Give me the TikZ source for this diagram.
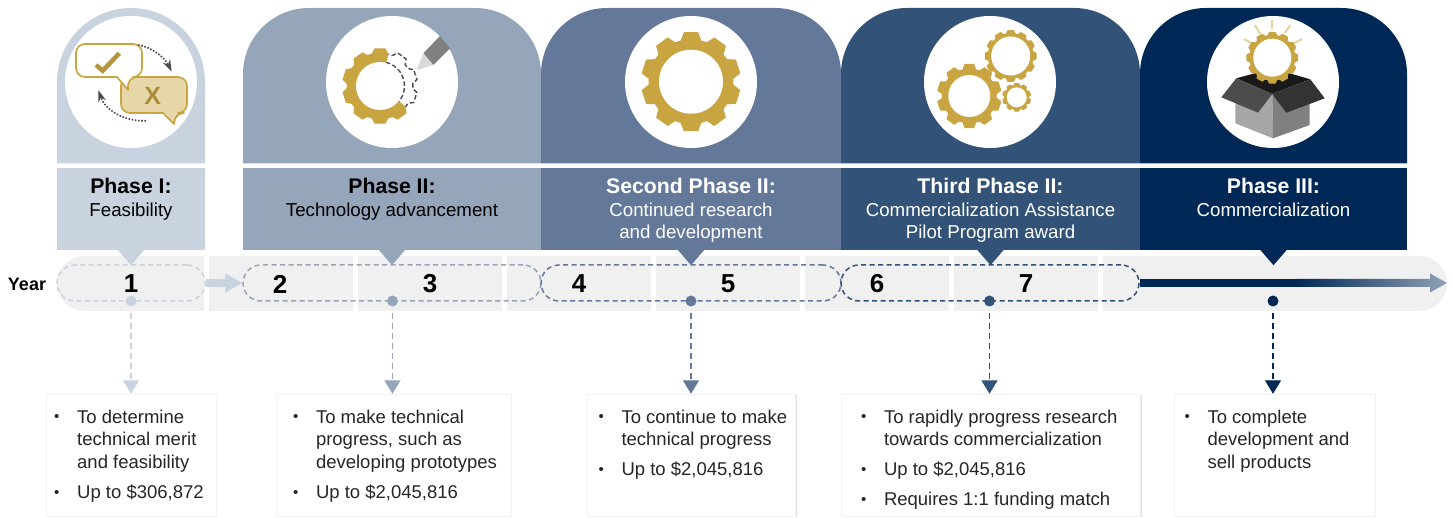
\documentclass[tikz,border=0pt]{standalone}
\usepackage{fontspec}
\setmainfont{Liberation Sans}
\usetikzlibrary{arrows.meta,shadows}

\definecolor{phA}{HTML}{C9D3DF}
\definecolor{phB}{HTML}{96A6BA}
\definecolor{phC}{HTML}{64799A}
\definecolor{phD}{HTML}{325277}
\definecolor{phE}{HTML}{002856}
\definecolor{track}{HTML}{F0F0F0}
\definecolor{gold}{HTML}{C9A542}
\definecolor{beige}{HTML}{E6D6A8}
\definecolor{bodytext}{HTML}{262626}

\tikzset{
  iconback/.style={circle, fill=white, minimum size=132pt, inner sep=0pt},
  panel/.style={rectangle, minimum height=82pt, inner sep=0pt},
  phasetext/.style={anchor=north, inner sep=0pt, align=center, font=\fontsize{18.7}{22.5}\selectfont},
  pill/.style={rectangle, rounded corners=18pt, minimum height=36pt, inner sep=0pt, line width=1.5pt, dash pattern=on 5pt off 3.5pt},
  yearnum/.style={inner sep=0pt, font=\fontsize{26}{26}\selectfont\bfseries},
  dot/.style={circle, minimum size=11pt, inner sep=0pt},
  goalbox/.style={rectangle, inner sep=0pt, fill=white, draw=black!5, text=bodytext, drop shadow={shadow xshift=1.2pt, shadow yshift=-1.2pt, fill=black!18, opacity=0.7}, font=\fontsize{18.5}{22.7}\selectfont},
  goalline/.style={line width=1.4pt, dash pattern=on 6pt off 4pt, shorten <=6pt, -{Triangle[length=13.5pt,width=16pt]}},
  gearfill/.style={fill=gold, draw=gold, line width=1pt, line join=round}
}

% outline of a gear around the origin: root radius, tip radius, teeth
\newcommand{\gearteeth}[3]{%
  ({90-0.38*360/#3}:#1) \foreach \t in {1,...,#3} {
    -- ({90+(\t-1)*360/#3-0.38*360/#3}:#1)
    -- ({90+(\t-1)*360/#3-0.22*360/#3}:#2)
    -- ({90+(\t-1)*360/#3+0.22*360/#3}:#2)
    -- ({90+(\t-1)*360/#3+0.38*360/#3}:#1)
  } -- cycle}
\newcommand{\phasetitle}[1]{{\fontsize{21.2}{22.5}\selectfont\bfseries #1}}
\newcommand{\goallist}[3]{\parbox[c][122pt][t]{#1pt}{\raggedright\leftskip=#2pt\relax\parskip=7.3pt\relax\vspace*{8.5pt}#3}}
\newcommand{\goalitem}[1]{\par\makebox[0pt][r]{\makebox[23pt][l]{\raisebox{1.5pt}{\fontsize{15}{15}\selectfont\textbullet}}}#1}

\begin{document}
\begin{tikzpicture}[x=1pt,y=1pt]
\useasboundingbox (0,0) rectangle (1452,-518);

% year track

\fill[track] (204,-256) -- (84.5,-256) arc[start angle=90,end angle=270,radius=27.5] -- (204,-311) -- cycle;
\foreach \x in {209,358,507,656,805,954} \fill[track] (\x,-256) rectangle ++(144,-55);
\fill[track] (1103,-256) -- (1419.5,-256) arc[start angle=90,end angle=-90,radius=27.5] -- (1103,-311) -- cycle;

% arches

\fill[phA] (57,-163.5) -- (57,-82) arc[start angle=180,end angle=0,radius=74] -- (205,-163.5) -- cycle;
\fill[phB] (243,-163.5) -- (243,-74) arc[start angle=180,end angle=90,radius=66] -- (475,-8) arc[start angle=90,end angle=0,radius=66] -- (541,-163.5) -- cycle;
\fill[phC] (541,-163.5) -- (541,-74) arc[start angle=180,end angle=90,radius=66] -- (775,-8) arc[start angle=90,end angle=0,radius=66] -- (841,-163.5) -- cycle;
\fill[phD] (841,-163.5) -- (841,-74) arc[start angle=180,end angle=90,radius=66] -- (1074,-8) arc[start angle=90,end angle=0,radius=66] -- (1140,-163.5) -- cycle;
\fill[phE] (1140,-163.5) -- (1140,-74) arc[start angle=180,end angle=90,radius=66] -- (1341,-8) arc[start angle=90,end angle=0,radius=66] -- (1407,-163.5) -- cycle;

\node[iconback] (iconA) at (131,-82) {};
\node[iconback] (iconB) at (392,-82) {};
\node[iconback] (iconC) at (691,-82) {};
\node[iconback] (iconD) at (990,-82) {};
\node[iconback] (iconE) at (1273,-82) {};

% panels

\node[panel, fill=phA, minimum width=148pt] (panelA) at (131,-209) {};
\node[panel, fill=phB, minimum width=298pt] (panelB) at (392,-209) {};
\node[panel, fill=phC, minimum width=300pt] (panelC) at (691,-209) {};
\node[panel, fill=phD, minimum width=299pt] (panelD) at (990.5,-209) {};
\node[panel, fill=phE, minimum width=267pt] (panelE) at (1273.5,-209) {};

\fill[phA] (panelA.south) ++(-13,0) -- ++(26,0) -- ++(-13,-15) -- cycle;
\fill[phB] (panelB.south) ++(-13,0) -- ++(26,0) -- ++(-13,-15) -- cycle;
\fill[phC] (panelC.south) ++(-13,0) -- ++(26,0) -- ++(-13,-15) -- cycle;
\fill[phD] (panelD.south) ++(-13,0) -- ++(26,0) -- ++(-13,-15) -- cycle;
\fill[phE] (panelE.south) ++(-13,0) -- ++(26,0) -- ++(-13,-15) -- cycle;

\node[phasetext, text=black] (textA) at (131,-178) {\phasetitle{Phase I:}\\Feasibility};
\node[phasetext, text=black] (textB) at (392,-178) {\phasetitle{Phase II:}\\Technology advancement};
\node[phasetext, text=white] (textC) at (691,-178) {\phasetitle{Second Phase II:}\\Continued research\\and development};
\node[phasetext, text=white] (textD) at (990.5,-178) {\phasetitle{Third Phase II:}\\Commercialization Assistance\\Pilot Program award};
\node[phasetext, text=white] (textE) at (1273.5,-178) {\phasetitle{Phase III:}\\Commercialization};

% years

\node[inner sep=0pt, font=\fontsize{18}{18}\selectfont\bfseries] (year) at (27,-284) {Year};
\node[pill, draw=phA, minimum width=148pt] (pillA) at (131,-283) {};
\node[pill, draw=phB, minimum width=298pt] (pillB) at (392,-283) {};
\node[pill, draw=phC, minimum width=300pt] (pillC) at (691,-283) {};
\node[pill, draw=phD, minimum width=298pt] (pillD) at (990,-283) {};

\node[yearnum] (y1) at (131,-284) {1};
\node[yearnum] (y2) at (280,-284) {2};
\node[yearnum] (y3) at (430,-284) {3};
\node[yearnum] (y4) at (579,-284) {4};
\node[yearnum] (y5) at (728,-284) {5};
\node[yearnum] (y6) at (877,-284) {6};
\node[yearnum] (y7) at (1026,-284) {7};

\draw[phA, line width=8pt, -{Triangle[length=17pt,width=18pt]}] (pillA.east) -- (pillB.west);

% arrow of phase III fades out

\coordinate (fade) at (1297,-283);
\draw[phE, line width=8pt] (pillD.east) -- (fade);
\path[left color=phE, right color=phB!90!phC] (fade) ++(0,4) -- (1430,-279) -- (1430,-273.5) -- (1447,-283) -- (1430,-292.5) -- (1430,-287) -- (1297,-287) -- cycle;

\node[dot, fill=phA] (dotA) at (131,-301) {};
\node[dot, fill=phB] (dotB) at (392.5,-301) {};
\node[dot, fill=phC] (dotC) at (691,-301) {};
\node[dot, fill=phD] (dotD) at (989.5,-301) {};
\node[dot, fill=phE] (dotE) at (1273,-301) {};

% goals

\node[goalbox] (goalA) at (130.85,-455) {\goallist{170.3}{31.5}{\goalitem{To determine\\technical merit\\and feasibility}\goalitem{Up to \$306,872}}};
\node[goalbox] (goalB) at (393.5,-455) {\goallist{235}{40}{\goalitem{To make technical\\progress, such as\\developing prototypes}\goalitem{Up to \$2,045,816}}};
\node[goalbox] (goalC) at (691.5,-455) {\goallist{208}{34}{\goalitem{To continue to make\\technical progress}\goalitem{Up to \$2,045,816}}};
\node[goalbox] (goalD) at (990.75,-455) {\goallist{299.5}{43}{\goalitem{To rapidly progress research\\towards commercialization}\goalitem{Up to \$2,045,816}\goalitem{Requires 1:1 funding match}}};
\node[goalbox] (goalE) at (1274.5,-455) {\goallist{201}{33.5}{\goalitem{To complete\\development and\\sell products}}};

\draw[goalline, phA] (dotA) -- (dotA |- goalA.north);
\draw[goalline, phB] (dotB) -- (dotB |- goalB.north);
\draw[goalline, phC] (dotC) -- (dotC |- goalC.north);
\draw[goalline, phD] (dotD) -- (dotD |- goalD.north);
\draw[goalline, phE] (dotE) -- (dotE |- goalE.north);

% icon of phase I

\draw[gold, fill=beige, line width=1.7pt, line join=round] (150,-77) [rounded corners=9pt] -- (187,-77) -- (187,-113) -- (175,-113) [sharp corners] -- (174,-124) -- (163,-113) [rounded corners=9pt] -- (121,-113) -- (121,-77) -- cycle;
\draw[gold, fill=white, line width=1.7pt, line join=round] (110,-44) [rounded corners=9pt] -- (142,-44) -- (142,-77) -- (128,-77) [sharp corners] -- (128,-90) -- (117,-77) [rounded corners=9pt] -- (76,-77) -- (76,-44) -- cycle;
\draw[gold!90!black, line width=4.5pt] (96,-65) -- (102.7,-70.7) -- (119.3,-53.3);
\node[inner sep=0pt, text=gold!85!black, font=\fontsize{25}{25}\selectfont\bfseries] (cross) at (152.7,-96) {X};
\draw[black!70, line width=1.6pt, dash pattern=on 1.6pt off 1.6pt, -{Stealth[length=12pt,width=8pt]}] (138,-45) .. controls (152,-47) and (165,-58) .. (171.7,-71.7);
\draw[black!70, line width=1.6pt, dash pattern=on 1.6pt off 1.6pt, -{Stealth[length=12pt,width=8pt]}] (146,-120.7) .. controls (125,-122) and (105,-110) .. (98.3,-90);

% icon of phase II

\begin{scope}
\clip (380,-86) -- +(75:70) -- +(150:90) -- +(230:90) -- +(321:70) -- cycle;
\fill[gearfill, shift={(380,-86)}] \gearteeth{33}{37.5}{10};
\end{scope}
\fill[white] (380,-86) circle[radius=24];
\begin{scope}
\clip (380,-86) -- +(75:70) -- +(0:90) -- +(321:70) -- cycle;
\draw[black!70, line width=1.4pt, dash pattern=on 4.5pt off 2.5pt, shift={(380,-86)}] \gearteeth{33}{37.5}{10};
\draw[black!70, line width=1.4pt, dash pattern=on 4.5pt off 2.5pt] (380,-86) circle[radius=24.5];
\end{scope}
\fill[black!50] (423.3,-53.3) -- (440,-36) -- (450,-48.3) -- (433.3,-65) -- cycle;
\fill[black!15] (416.7,-70) -- (423.3,-53.3) -- (433.3,-65) -- cycle;

% icon of second phase II

\fill[gearfill, shift={(691,-81.7)}] \gearteeth{42}{49.5}{10};
\fill[white] (691,-81.7) circle[radius=32];

% icon of third phase II

\fill[gearfill, shift={(969.3,-96)}] \gearteeth{27}{32}{10};
\fill[white] (969.3,-96) circle[radius=21];
\fill[gearfill, shift={(1010.7,-56)}] \gearteeth{22.5}{25.5}{12};
\fill[white] (1010.7,-56) circle[radius=19.5];
\fill[gearfill, shift={(1016.7,-97.3)}] \gearteeth{12}{14}{10};
\fill[white] (1016.7,-97.3) circle[radius=10];

% icon of phase III

\draw[gold!50, line width=2pt] (1272.3,-20) -- (1272.3,-29.5);
\draw[gold!50, line width=2pt] (1254.7,-25) -- (1260.3,-34);
\draw[gold!50, line width=2pt] (1290.3,-25) -- (1284.7,-33.3);
\draw[gold!50, line width=2pt] (1243.7,-39) -- (1252.3,-43.3);
\draw[gold!50, line width=2pt] (1302,-39) -- (1293.7,-43.3);
\fill[black!90] (1236.3,-78.3) -- (1254.7,-73.3) -- (1289.7,-73.3) -- (1310.3,-79.3) -- (1272.3,-94) -- cycle;
\fill[gearfill, shift={(1272.3,-57.7)}] \gearteeth{22.5}{25.5}{12};
\fill[white] (1272.3,-57.7) circle[radius=19];
\fill[black!35] (1235.3,-101.7) -- (1272.3,-94) -- (1273,-138.3) -- (1235.3,-123.3) -- cycle;
\fill[black!50] (1272.3,-94) -- (1309.7,-101.7) -- (1309.7,-125) -- (1273,-138.3) -- cycle;
\fill[black!70] (1236.3,-78.3) -- (1272.3,-94) -- (1258,-112.7) -- (1221.3,-97.3) -- cycle;
\fill[black!80] (1310.3,-79.3) -- (1272.3,-94) -- (1286.3,-112.7) -- (1324.7,-98.3) -- cycle;

\end{tikzpicture}
\end{document}
